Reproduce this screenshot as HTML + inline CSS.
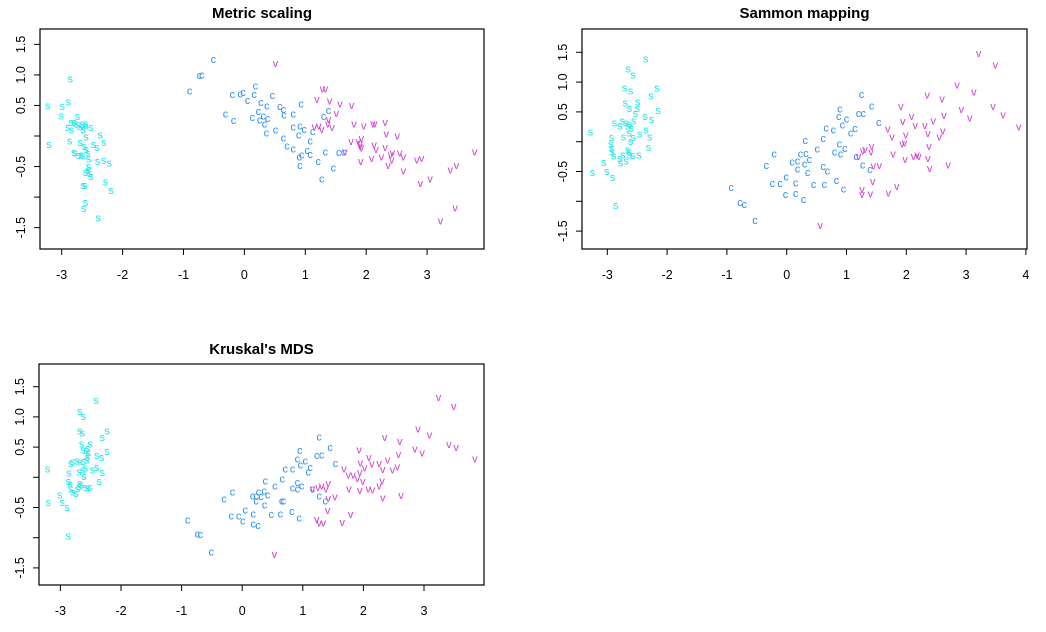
<!DOCTYPE html>
<html><head><meta charset="utf-8">
<style>
html,body{margin:0;padding:0;background:#fff;}
svg{display:block;font-family:"Liberation Sans",Arial,sans-serif;}
</style></head>
<body>
<svg id="chart" width="1046" height="632" viewBox="0 0 1046 632" xmlns="http://www.w3.org/2000/svg"></svg>
<script>
// ---- Data: Metric scaling ----
const metricSetosaX=[-3.23,-3.21,-2.99,-3.01,-2.89,-2.86,-2.87,-2.90,-2.85,-2.84,-2.80,-2.77,-2.74,-2.73,-2.70,-2.69,-2.66,-2.65,-2.61,-2.60,-2.60,-2.52,-2.80,-2.78,-2.72,-2.68,-2.65,-2.63,-2.60,-2.57,-2.56,-2.56,-2.61,-2.57,-2.54,-2.52,-2.48,-2.42,-2.37,-2.31,-2.41,-2.31,-2.22,-2.28,-2.19,-2.65,-2.62,-2.61,-2.64,-2.40];
const metricSetosaY=[0.49,-0.14,0.48,0.33,0.56,0.93,-0.08,0.14,0.22,0.10,0.22,0.20,0.32,0.18,-0.11,0.15,0.20,0.11,0.20,-0.02,0.16,0.14,-0.27,-0.28,-0.32,-0.31,-0.33,-0.17,-0.22,-0.28,-0.38,-0.50,-0.60,-0.56,-0.61,-0.66,-0.14,-0.19,0.02,-0.11,-0.42,-0.40,-0.44,-0.75,-0.89,-0.81,-0.81,-1.09,-1.19,-1.34];
const metricVersiX=[-0.51,-0.74,-0.70,-0.90,-0.20,-0.07,-0.02,0.05,0.16,0.18,0.46,-0.31,-0.18,0.13,0.23,0.25,0.31,0.33,0.37,0.38,0.27,0.36,0.51,0.58,0.64,0.65,0.80,0.64,0.70,0.80,0.80,0.89,0.91,0.93,0.98,0.90,0.94,0.91,1.03,1.08,1.08,1.12,1.21,1.27,1.33,1.30,1.38,1.46,1.55,1.63];
const metricVersiY=[1.25,0.99,1.00,0.74,0.68,0.69,0.71,0.58,0.68,0.82,0.66,0.36,0.25,0.30,0.40,0.26,0.33,0.20,0.49,0.29,0.55,0.05,0.10,0.48,0.43,0.34,0.36,-0.03,-0.16,-0.21,0.15,0.02,0.16,0.52,0.11,-0.34,-0.31,-0.48,-0.24,-0.30,-0.08,0.07,-0.42,-0.70,-0.26,0.32,0.42,-0.52,-0.27,-0.26];
const metricVirgX=[0.51,1.28,1.33,1.19,1.40,1.57,1.76,1.51,1.38,1.15,1.22,1.27,1.37,1.44,1.65,1.75,1.80,1.90,1.92,1.90,1.96,1.91,2.09,2.11,2.14,2.16,2.13,2.25,2.31,2.31,2.33,2.36,2.42,2.40,2.51,2.55,2.61,2.61,2.83,2.91,2.89,3.05,3.22,3.38,3.48,3.46,3.78,1.92,2.43,1.87];
const metricVirgY=[1.19,0.77,0.77,0.60,0.57,0.52,0.50,0.37,0.27,0.15,0.16,0.11,0.20,0.14,-0.26,-0.09,0.20,-0.12,-0.04,-0.17,0.16,-0.42,-0.37,0.20,0.20,-0.22,-0.15,-0.34,0.22,-0.19,0.03,-0.48,-0.39,-0.31,0.00,-0.28,-0.34,-0.57,-0.39,-0.37,-0.78,-0.70,-1.39,-0.56,-0.48,-1.18,-0.26,-0.20,-0.28,-0.09];
// ---- Data: Sammon mapping ----
const sammonSetosaX=[-3.28,-3.25,-3.06,-3.01,-2.91,-2.86,-2.93,-2.94,-2.93,-2.92,-2.89,-2.79,-2.78,-2.74,-2.69,-2.66,-2.64,-2.63,-2.57,-2.47,-2.73,-2.64,-2.61,-2.60,-2.57,-2.46,-2.35,-2.29,-2.31,-2.88,-2.79,-2.75,-2.69,-2.66,-2.63,-2.56,-2.53,-2.50,-2.63,-2.70,-2.49,-2.37,-2.26,-2.15,-2.27,-2.17,-2.71,-2.61,-2.65,-2.57,-2.36];
const sammonSetosaY=[0.16,-0.52,-0.35,-0.50,-0.60,-1.07,0.07,-0.04,-0.11,-0.17,-0.24,-0.28,-0.36,-0.22,-0.32,-0.14,-0.17,-0.22,-0.23,-0.22,0.08,0.15,0.00,0.23,0.07,0.13,0.20,0.08,-0.10,0.31,0.26,0.35,0.31,0.26,0.30,0.35,0.47,0.56,0.56,0.65,0.67,0.42,0.37,0.52,0.77,0.90,0.90,0.85,1.22,1.12,1.39];
const sammonVersiX=[-0.93,-0.78,-0.71,-0.53,-0.34,-0.21,-0.24,-0.11,-0.02,-0.01,0.09,0.15,0.15,0.18,0.18,0.23,0.28,0.30,0.32,0.35,0.38,0.31,0.45,0.51,0.61,0.61,0.63,0.66,0.68,0.78,0.80,0.83,0.88,0.89,0.87,0.90,0.93,0.95,0.97,1.00,1.07,1.14,1.16,1.20,1.25,1.27,1.28,1.39,1.42,1.54];
const sammonVersiY=[-0.77,-1.02,-1.05,-1.32,-0.40,-0.21,-0.70,-0.70,-0.89,-0.59,-0.34,-0.69,-0.87,-0.46,-0.32,-0.21,-0.97,-0.37,-0.20,-0.52,-0.30,0.02,-0.72,-0.12,0.05,-0.42,-0.72,0.23,-0.49,0.20,-0.17,-0.65,-0.04,0.55,0.42,-0.21,0.28,-0.79,-0.11,0.38,0.15,0.22,-0.25,0.47,0.79,-0.39,0.47,-0.47,0.60,0.32];
const sammonVirgX=[0.56,1.26,1.26,1.40,1.44,1.20,1.27,1.31,1.41,1.42,1.45,1.55,1.70,1.84,1.69,1.76,1.78,1.91,1.94,1.93,1.97,1.99,1.98,2.09,2.12,2.15,2.18,2.21,2.31,2.35,2.36,2.36,2.38,2.39,2.45,2.55,2.60,2.61,2.63,2.70,2.85,2.92,3.06,3.13,3.21,3.45,3.49,3.62,3.88];
const sammonVirgY=[-1.41,-0.80,-0.89,-0.88,-0.67,-0.25,-0.16,-0.13,-0.17,-0.08,-0.41,-0.40,-0.86,-0.75,0.21,0.08,-0.21,0.59,0.34,-0.04,-0.02,0.11,-0.30,0.42,-0.25,0.27,-0.22,-0.25,0.27,0.78,0.14,-0.28,-0.08,-0.45,0.35,0.08,0.72,0.18,0.44,-0.39,0.95,0.54,0.40,0.83,1.48,0.59,1.29,0.45,0.25];
// ---- Data: Kruskal's MDS ----
const kruskalSetosaX=[-3.21,-3.20,-3.01,-2.97,-2.89,-2.87,-2.86,-2.87,-2.84,-2.83,-2.80,-2.74,-2.72,-2.69,-2.68,-2.65,-2.59,-2.55,-2.51,-2.61,-2.69,-2.63,-2.59,-2.47,-2.40,-2.31,-2.36,-2.80,-2.73,-2.68,-2.62,-2.57,-2.55,-2.58,-2.55,-2.63,-2.65,-2.51,-2.40,-2.32,-2.23,-2.31,-2.23,-2.68,-2.64,-2.68,-2.62,-2.41,-2.83,-2.54];
const kruskalSetosaY=[0.14,-0.42,-0.29,-0.42,-0.50,-0.97,0.07,-0.07,-0.11,-0.19,-0.24,-0.27,-0.19,-0.15,-0.10,-0.13,-0.17,-0.18,-0.17,0.01,0.09,0.12,0.15,0.12,0.16,0.08,-0.07,0.25,0.27,0.25,0.26,0.29,0.34,0.44,0.48,0.45,0.55,0.55,0.36,0.33,0.43,0.66,0.77,0.77,0.73,1.09,1.01,1.27,0.23,0.40];
const kruskalVersiX=[-0.90,-0.74,-0.69,-0.51,-0.30,-0.16,-0.18,-0.06,0.01,0.05,0.17,0.18,0.18,0.23,0.23,0.27,0.26,0.31,0.36,0.37,0.42,0.38,0.48,0.54,0.66,0.65,0.63,0.71,0.68,0.83,0.83,0.82,0.91,0.95,0.91,0.91,0.96,0.94,0.98,1.04,1.12,1.09,1.16,1.23,1.27,1.27,1.31,1.37,1.45,1.54];
const kruskalVersiY=[-0.71,-0.94,-0.95,-1.24,-0.36,-0.24,-0.64,-0.64,-0.72,-0.54,-0.31,-0.61,-0.77,-0.39,-0.31,-0.24,-0.80,-0.32,-0.23,-0.46,-0.29,-0.06,-0.62,-0.14,-0.03,-0.39,-0.61,0.14,-0.39,0.14,-0.18,-0.57,-0.09,0.44,0.30,-0.19,0.20,-0.67,-0.14,0.27,0.16,0.09,-0.19,0.36,0.67,-0.31,0.37,-0.39,0.49,0.23];
const kruskalVirgX=[0.53,1.23,1.27,1.34,1.41,1.16,1.25,1.31,1.38,1.42,1.42,1.53,1.65,1.79,1.68,1.75,1.76,1.93,1.95,1.94,1.99,1.90,1.94,2.09,2.08,2.14,2.15,2.26,2.26,2.32,2.31,2.32,2.35,2.40,2.48,2.56,2.58,2.60,2.62,2.85,2.90,2.97,3.09,3.24,3.41,3.49,3.53,3.84,2.02,1.83];
const kruskalVirgY=[-1.28,-0.70,-0.76,-0.76,-0.55,-0.19,-0.17,-0.14,-0.19,-0.10,-0.35,-0.33,-0.75,-0.62,0.14,0.04,-0.19,0.45,0.24,0.08,-0.07,-0.02,-0.22,0.33,-0.19,0.22,-0.21,0.23,-0.14,0.13,-0.06,-0.34,0.66,0.29,0.12,0.17,0.38,0.59,-0.30,0.47,0.80,0.40,0.70,1.32,0.54,1.17,0.49,0.30,0.15,0.04];
const yTickValues=[-1.5,-1,-0.5,0,0.5,1,1.5];
const yTickLabels=["-1.5","","-0.5","","0.5","1.0","1.5"];
const xTicks12=[-3,-2,-1,0,1,2,3];
const xTicks2=[-3,-2,-1,0,1,2,3,4];

const NS="http://www.w3.org/2000/svg";
const svg=document.getElementById('chart');
function mk(tag,attrs,parent){const e=document.createElementNS(NS,tag);for(const k in attrs)e.setAttribute(k,attrs[k]);(parent||svg).appendChild(e);return e;}

const panels=[
 {name:'metric-scaling-panel',title:"Metric scaling",box:[40,29,484,249],x0:244.4,xs:60.9,y0:136,ys:61.1,tY:13,xt:xTicks12,
  s:[metricSetosaX,metricSetosaY],c:[metricVersiX,metricVersiY],v:[metricVirgX,metricVirgY]},
 {name:'sammon-mapping-panel',title:"Sammon mapping",box:[582,29,1027,249],x0:786.7,xs:59.8,y0:141.7,ys:59.6,tY:13,xt:xTicks2,
  s:[sammonSetosaX,sammonSetosaY],c:[sammonVersiX,sammonVersiY],v:[sammonVirgX,sammonVirgY]},
 {name:'kruskal-mds-panel',title:"Kruskal's MDS",box:[39,364,484,585],x0:242.2,xs:60.6,y0:477.3,ys:60.4,tY:349,xt:xTicks12,
  s:[kruskalSetosaX,kruskalSetosaY],c:[kruskalVersiX,kruskalVersiY],v:[kruskalVirgX,kruskalVirgY]}
];
const colors={s:'#1de6ea',c:'#2b8ff0',v:'#d43ad4'};
const names={s:'setosa-point',c:'versicolor-point',v:'virginica-point'};

panels.forEach(p=>{
  const g=mk('g',{});
  
  
  const [x1,y1,x2,y2]=p.box;
  const sx=v=>p.x0+p.xs*v, sy=v=>p.y0-p.ys*v;
  const t=mk('text',{x:(x1+x2)/2,y:p.tY+5,'text-anchor':'middle','font-size':'15','font-weight':'bold',fill:'#000'},g);
  t.textContent=p.title;
  
  
  const r=mk('rect',{x:x1,y:y1,width:x2-x1,height:y2-y1,fill:'none',stroke:'#000','stroke-width':1.2},g);
  
  
  const xa=mk('g',{},g);
  
  
  const xt=p.xt;
  mk('line',{x1:sx(xt[0]),x2:sx(xt[xt.length-1]),y1:y2,y2:y2,stroke:'#000'},xa);
  xt.forEach(v=>{
    mk('line',{x1:sx(v),x2:sx(v),y1:y2,y2:y2+6,stroke:'#000'},xa);
    const l=mk('text',{x:sx(v),y:y2+30,'text-anchor':'middle','font-size':'12.5',fill:'#000'},xa);
    l.textContent=String(v);
    
    
  });
  const ya=mk('g',{},g);
  
  
  mk('line',{x1:x1,x2:x1,y1:sy(-1.5),y2:sy(1.5),stroke:'#000'},ya);
  yTickValues.forEach((v,i)=>{
    mk('line',{x1:x1-6,x2:x1,y1:sy(v),y2:sy(v),stroke:'#000'},ya);
    if(yTickLabels[i]){
      const lx=x1-19, ly=sy(v);
      const l=mk('text',{x:lx,y:ly+4,'text-anchor':'middle','font-size':'12.5',fill:'#000',transform:`rotate(-90 ${lx} ${ly})`},ya);
      l.textContent=yTickLabels[i];
      
      
    }
  });
  ['s','c','v'].forEach(k=>{
    const [xs,ys]=p[k];
    const sg=mk('g',{fill:colors[k],'font-size':'11','text-anchor':'middle'},g);
    
    
    for(let i=0;i<xs.length;i++){
      const e=mk('text',{x:sx(xs[i]),y:sy(ys[i])+3.5},sg);
      e.textContent=k;
      
      
    }
  });
});
</script>
</body></html>
